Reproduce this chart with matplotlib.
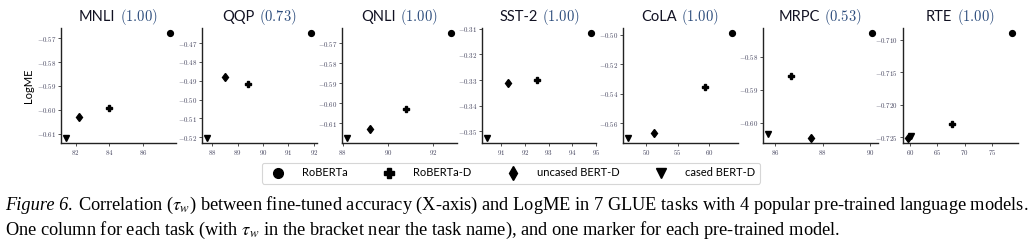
import matplotlib
matplotlib.use("Agg")
import matplotlib.pyplot as plt
from matplotlib.ticker import MultipleLocator, FuncFormatter
from matplotlib.offsetbox import TextArea, HPacker, AnnotationBbox
from matplotlib.lines import Line2D

# ---------------- data ----------------
tasks = ["MNLI", "QQP", "QNLI", "SST-2", "CoLA", "MRPC", "RTE"]
tau_w = ["1.00", "0.73", "1.00", "1.00", "1.00", "0.53", "1.00"]
models = ["RoBERTa", "RoBERTa-D", "uncased BERT-D", "cased BERT-D"]

acc_roberta = [87.6, 91.9, 92.8, 94.8, 63.6, 90.1, 78.7]
acc_roberta_d = [84.0, 89.4, 90.8, 92.5, 59.3, 86.65, 67.7]
acc_uncased_bert_d = [82.2, 88.5, 89.2, 91.3, 51.3, 87.5, 59.7]
acc_cased_bert_d = [81.45, 87.8, 88.2, 90.4, 47.2, 85.7, 60.3]

logme_roberta = [-0.5679, -0.4647, -0.5649, -0.3117, -0.4988, -0.5729, -0.70898]
logme_roberta_d = [-0.5992, -0.4918, -0.6028, -0.3300, -0.5355, -0.5859, -0.7229]
logme_uncased_bert_d = [-0.6031, -0.4879, -0.6127, -0.3312, -0.5669, -0.6046, -0.7251]
logme_cased_bert_d = [-0.6117, -0.5203, -0.6172, -0.3526, -0.5699, -0.6036, -0.7248]

caption_lead = "Figure 6."
caption_line1 = ("Correlation ($\\tau_w$) between fine-tuned accuracy (X-axis) and LogME in 7 GLUE "
                 "tasks with 4 popular pre-trained language models.")
caption_line2 = ("One column for each task (with $\\tau_w$ in the bracket near the task name), "
                 "and one marker for each pre-trained model.")

# ---------------- style ----------------
accs = [acc_roberta, acc_roberta_d, acc_uncased_bert_d, acc_cased_bert_d]
logmes = [logme_roberta, logme_roberta_d, logme_uncased_bert_d, logme_cased_bert_d]
markers = ['o', 'P', 'd', 'v']
msizes = [4.2, 4.3, 4.4, 4.0]

x_step = [2, 1, 2, 1, 5, 2, 5]
y_step = [0.01, 0.01, 0.01, 0.01, 0.02, 0.01, 0.005]
y_dec = [2, 2, 2, 2, 2, 2, 3]

W, H = 1031, 248
fig = plt.figure(figsize=(W / 100, H / 100), dpi=100)
lefts = [61, 202, 342, 482, 623, 763, 903]
aw = 114.5
top, bottom = 28, 143
tick_color = '#44445e'

for i, task in enumerate(tasks):
    ax = fig.add_axes([lefts[i] / W, (H - bottom) / H, aw / W, (bottom - top) / H])
    for a, lm, m, ms in zip(accs, logmes, markers, msizes):
        ax.plot(a[i], lm[i], linestyle='none', marker=m, color='black',
                markersize=ms, clip_on=False)
    ax.margins(0.05)
    for s in ['top', 'right']:
        ax.spines[s].set_visible(False)
    for s in ['left', 'bottom']:
        ax.spines[s].set_linewidth(1.0)
        ax.spines[s].set_color('#222222')
    ax.xaxis.set_major_locator(MultipleLocator(x_step[i]))
    ax.yaxis.set_major_locator(MultipleLocator(y_step[i]))
    ax.xaxis.set_major_formatter(FuncFormatter(lambda v, p: f'${v:.0f}$'))
    ax.yaxis.set_major_formatter(FuncFormatter(lambda v, p, d=y_dec[i]: f'${v:.{d}f}$'))
    ax.tick_params(axis='both', labelsize=5, length=2, width=0.6, pad=1.5,
                   colors='#333333', labelcolor=tick_color)
    for lab in ax.get_xticklabels() + ax.get_yticklabels():
        lab.set_math_fontfamily('cm')
    ax.patch.set_visible(False)

    ta1 = TextArea(task, textprops=dict(fontfamily='Lato', fontsize=10.5, color='#111122'))
    ta2 = TextArea(f'$({tau_w[i]})$', textprops=dict(fontsize=10.5, color='#2c4c7c',
                                                       math_fontfamily='cm'))
    box = HPacker(children=[ta1, ta2], align='baseline', pad=0, sep=3)
    ab = AnnotationBbox(box, (0.5, 1.0), xycoords='axes fraction', xybox=(0, 1),
                        boxcoords='offset points', box_alignment=(0.5, 0),
                        frameon=False, pad=0)
    ax.add_artist(ab)
    if i == 0:
        ax.set_ylabel('LogME', fontfamily='Lato', fontsize=8, labelpad=2)

handles = [Line2D([], [], marker=m, linestyle='none', color='black', markersize=7)
           for m in markers]
leg = fig.legend(handles, models, loc='center', bbox_to_anchor=(511 / W, (H - 173) / H),
                 ncol=4, frameon=True, handlelength=2.0,
                 handletextpad=1.2, columnspacing=2.7, borderpad=0.45,
                 prop=dict(family='Lato', size=8), fancybox=True)
leg.get_frame().set_edgecolor('#cccccc')
leg.get_frame().set_linewidth(0.8)

# ---------------- caption ----------------
fs = 12.0
cap_kw = dict(fontfamily='Liberation Serif', math_fontfamily='stix', va='baseline',
              color='black')
t1 = fig.text(5 / W, (H - 210) / H, caption_lead, fontstyle='italic', fontsize=fs, **cap_kw)
t2 = fig.text(0, (H - 210) / H, caption_line1, fontsize=fs, **cap_kw)
t3 = fig.text(5 / W, (H - 235) / H, caption_line2, fontsize=fs, **cap_kw)
fig.canvas.draw()
r = fig.canvas.get_renderer()
w1 = t1.get_window_extent(r).width
w2 = t2.get_window_extent(r).width
gap = fs * 0.25 * 100 / 72
scale = 1019 / (w1 + gap + w2)
fs2 = fs * scale
for t in (t1, t2, t3):
    t.set_fontsize(fs2)
fig.canvas.draw()
w1 = t1.get_window_extent(r).width
gap = fs2 * 0.25 * 100 / 72
t2.set_x((5 + w1 + gap) / W)

fig.savefig('out.png', dpi=100)
